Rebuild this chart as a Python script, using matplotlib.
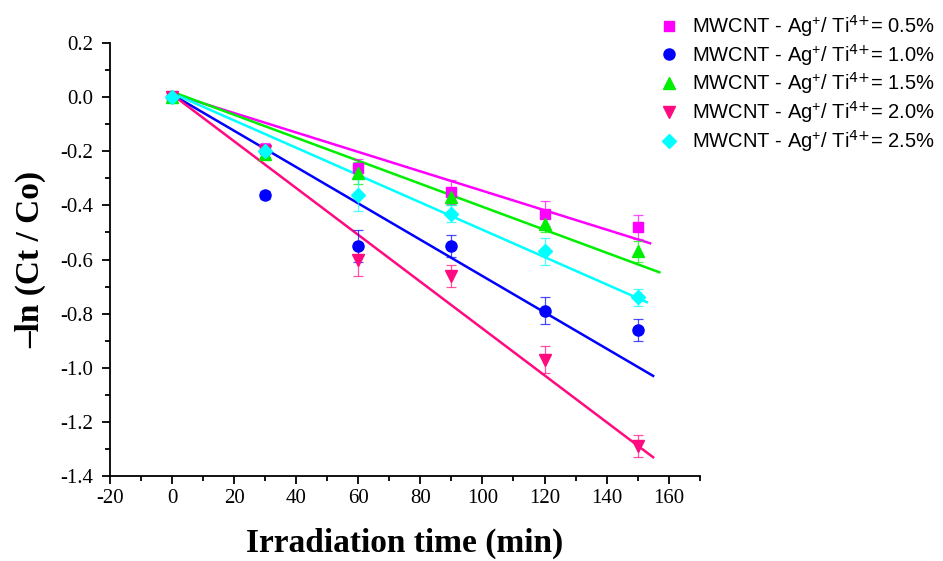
import numpy as np
import matplotlib
matplotlib.use("Agg")
import matplotlib.pyplot as plt

# ---------------------------------------------------------------------------
# Data
# ---------------------------------------------------------------------------
time_min = [0, 30, 60, 90, 120, 150]

labels = ["0.5%", "1.0%", "1.5%", "2.0%", "2.5%"]
series = [
    [0.0, -0.19, -0.26, -0.35, -0.43, -0.48],
    [0.0, -0.36, -0.55, -0.55, -0.79, -0.86],
    [0.0, -0.21, -0.28, -0.37, -0.47, -0.57],
    [0.0, -0.20, -0.60, -0.66, -0.97, -1.29],
    [0.0, -0.20, -0.36, -0.43, -0.57, -0.74],
]
errors = [
    [0.01, 0.02, 0.03, 0.045, 0.045, 0.045],
    [0.01, 0.015, 0.06, 0.04, 0.05, 0.04],
    [0.01, 0.02, 0.04, 0.03, 0.03, 0.04],
    [0.01, 0.02, 0.06, 0.04, 0.05, 0.04],
    [0.01, 0.02, 0.06, 0.03, 0.05, 0.03],
]
# linear fits: intercept, slope, end of fitted line (min)
fit_intercept = [0.013, 0.01, 0.02, 0.01, 0.015]
fit_slope = [-0.00359, -0.00671, -0.00425, -0.00865, -0.00505]
fit_end = [154, 155, 157, 155, 153]

colors = ["#FF00FF", "#0000FF", "#00EE00", "#FF0A7F", "#00FFFF"]
markers = ["s", "o", "^", "v", "D"]
msizes = [7, 8, 8.5, 8.5, 7]

# ---------------------------------------------------------------------------
# Plot
# ---------------------------------------------------------------------------
plt.rcParams["mathtext.default"] = "regular"
plt.rcParams["axes.unicode_minus"] = False
serif = "Liberation Serif"

fig = plt.figure(figsize=(9.43, 5.61), dpi=100)
ax = fig.add_axes([0.1166, 0.1515, 0.6254, 0.7718])

handles = []
for k in range(len(series)):
    xf = np.array([0, fit_end[k]])
    ax.plot(xf, fit_intercept[k] + fit_slope[k] * xf, color=colors[k], lw=1.8,
            zorder=2)
    ax.errorbar(time_min, series[k], yerr=errors[k], fmt="none",
                ecolor=colors[k], elinewidth=0.9, capsize=3.5, capthick=0.9,
                alpha=0.7, zorder=3)
    h, = ax.plot(time_min, series[k], linestyle="none", marker=markers[k],
                 ms=msizes[k], color=colors[k], mec=colors[k], zorder=4,
                 label=r"MWCNT - Ag$^{+}$/ Ti$^{\text{4+}}$= " + labels[k])
    handles.append(h)

yt = np.round(np.arange(-1.4, 0.21, 0.2), 1)
ax.set_xlim(-20, 170)
ax.set_ylim(-1.4, 0.2)
ax.set_xticks(np.arange(-20, 161, 20))
ax.set_yticks(yt)
ax.set_xticks(np.arange(-10, 171, 20), minor=True)
ax.set_yticks(np.arange(-1.3, 0.2, 0.2), minor=True)
ax.set_yticklabels([f"{v + 0.0:.1f}" for v in yt])

for s in ["top", "right"]:
    ax.spines[s].set_visible(False)
for s in ["left", "bottom"]:
    ax.spines[s].set_linewidth(1.3)
ax.tick_params(which="major", direction="out", length=6, width=1.3,
               labelsize=15)
ax.tick_params(axis="y", pad=6)
ax.tick_params(which="minor", direction="out", length=3.5, width=1.3)
for lbl in ax.get_xticklabels() + ax.get_yticklabels():
    lbl.set_fontfamily(serif)

ax.set_xlabel("Irradiation time (min)", fontsize=24, fontweight="bold",
              family=serif, labelpad=14)
ax.set_ylabel("\u2013ln (Ct / Co)", fontsize=24, fontweight="bold",
              family=serif, labelpad=10)

fig.legend(handles=handles, loc="upper right", bbox_to_anchor=(1.005, 1.0),
           frameon=False, prop={"family": "Liberation Sans", "size": 14.5},
           handletextpad=0.5, labelspacing=0.14, borderaxespad=0.25,
           handlelength=1.3)

fig.savefig("out.png", dpi=100)
